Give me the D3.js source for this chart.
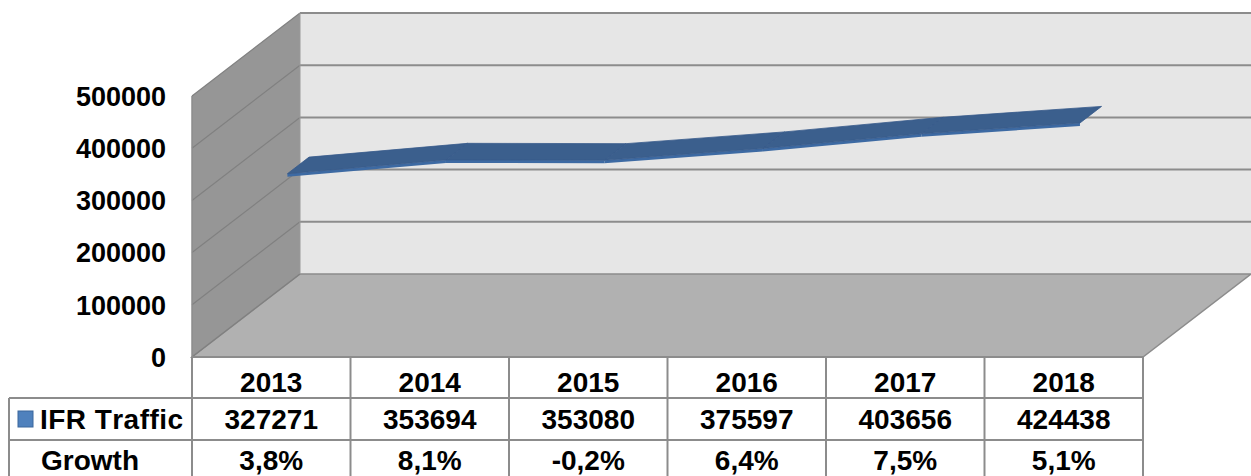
<!DOCTYPE html>
<html>
<head>
<meta charset="utf-8">
<script src="https://cdn.jsdelivr.net/npm/d3@7"></script>
<style>
  body { margin: 0; background: #fff; }
  svg text { font-family: "Liberation Sans", Arial, sans-serif; font-weight: bold; fill: #000; font-kerning: none; }
</style>
</head>
<body>
<svg id="chart" width="1251" height="476"></svg>
<script>
// datos
const years = ["2013", "2014", "2015", "2016", "2017", "2018"];
const traffic = [327271, 353694, 353080, 375597, 403656, 424438];
const growth = ["3,8%", "8,1%", "-0,2%", "6,4%", "7,5%", "5,1%"];
const yTicks = [0, 100000, 200000, 300000, 400000, 500000];
const seriesName = "IFR Traffic";
const rowName = "Growth";

const svg = d3.select("#chart");

// plano frontal + profundidad
const plotLeft = 192, plotRight = 1143, plotBottom = 357, plotTop = 96;
const dx = 108, dy = -83;

const x = d3.scaleBand().domain(years).range([plotLeft, plotRight]);
const y = d3.scaleLinear().domain([0, 500000]).range([plotBottom, plotTop]);

const pts = a => a.map(p => p.join(",")).join(" ");

// pared del fondo
svg.append("polygon")
  .attr("points", pts([[plotLeft + dx, plotTop + dy], [1251, plotTop + dy], [1251, plotBottom + dy], [plotLeft + dx, plotBottom + dy]]))
  .attr("fill", "#e6e6e6");

// pared lateral
svg.append("polygon")
  .attr("points", pts([[plotLeft, plotBottom], [plotLeft, plotTop], [plotLeft + dx, plotTop + dy], [plotLeft + dx, plotBottom + dy]]))
  .attr("fill", "#969696");

// suelo
svg.append("polygon")
  .attr("points", pts([[plotLeft, plotBottom], [plotRight, plotBottom], [plotRight + dx, plotBottom + dy], [plotLeft + dx, plotBottom + dy]]))
  .attr("fill", "#b1b1b1")
  .attr("stroke", "#8c8c8c")
  .attr("stroke-width", 1.5);

// lineas de cuadricula
yTicks.forEach(v => {
  if (v > 0) {
    svg.append("line")
      .attr("x1", plotLeft + dx).attr("y1", y(v) + dy)
      .attr("x2", 1251).attr("y2", y(v) + dy)
      .attr("stroke", "#8c8c8c").attr("stroke-width", 2);
  }
  svg.append("line")
    .attr("x1", plotLeft).attr("y1", y(v))
    .attr("x2", plotLeft + dx).attr("y2", y(v) + dy)
    .attr("stroke", "#808080").attr("stroke-width", 1.2);
});
svg.append("line")
  .attr("x1", plotLeft + dx).attr("y1", plotTop + dy)
  .attr("x2", plotLeft + dx).attr("y2", plotBottom + dy)
  .attr("stroke", "#9a9a9a").attr("stroke-width", 1);
svg.append("line")
  .attr("x1", plotLeft).attr("y1", plotTop)
  .attr("x2", plotLeft).attr("y2", plotBottom)
  .attr("stroke", "#8c8c8c").attr("stroke-width", 1.5);

// etiquetas del eje Y
svg.selectAll(".ylab")
  .data(yTicks)
  .enter()
  .append("text")
  .attr("class", "ylab")
  .attr("x", 166)
  .attr("y", d => y(d))
  .attr("dy", "0.36em")
  .attr("text-anchor", "end")
  .style("font-size", "27px")
  .text(d => d);

// cinta 3D de la serie
const t0 = 0.15, t1 = 0.35, thick = 3;
const cx = years.map(d => x(d) + x.bandwidth() / 2);
const cy = traffic.map(v => y(v));
const ribbon = svg.append("g");
for (let i = 0; i < years.length - 1; i++) {
  const f0 = [cx[i] + t0 * dx, cy[i] + t0 * dy], f1 = [cx[i + 1] + t0 * dx, cy[i + 1] + t0 * dy];
  const b0 = [cx[i] + t1 * dx, cy[i] + t1 * dy], b1 = [cx[i + 1] + t1 * dx, cy[i + 1] + t1 * dy];
  ribbon.append("polygon")
    .attr("points", pts([f0, f1, [f1[0], f1[1] + thick], [f0[0], f0[1] + thick]]))
    .attr("fill", "#3d6aa3");
  ribbon.append("polygon")
    .attr("points", pts([f0, f1, b1, b0]))
    .attr("fill", "#3b5f8d")
    .attr("stroke", "#36598a")
    .attr("stroke-width", 0.8);
}

// tabla de datos
const rowTop = [plotBottom, 398, 440, 482];
const grid = "#8c8c8c";
const table = svg.append("g");
// lineas horizontales
table.append("line").attr("x1", plotLeft).attr("x2", plotRight).attr("y1", rowTop[0]).attr("y2", rowTop[0])
  .attr("stroke", grid).attr("stroke-width", 2);
[1, 2].forEach(r => {
  table.append("line").attr("x1", 9).attr("x2", plotRight).attr("y1", rowTop[r]).attr("y2", rowTop[r])
    .attr("stroke", grid).attr("stroke-width", 2);
});
// lineas verticales
years.forEach(d => {
  table.append("line").attr("x1", x(d)).attr("x2", x(d)).attr("y1", rowTop[0]).attr("y2", 476)
    .attr("stroke", grid).attr("stroke-width", 2);
});
table.append("line").attr("x1", plotRight).attr("x2", plotRight).attr("y1", rowTop[0]).attr("y2", 476)
  .attr("stroke", grid).attr("stroke-width", 2);
table.append("line").attr("x1", 9).attr("x2", 9).attr("y1", rowTop[1]).attr("y2", 476)
  .attr("stroke", grid).attr("stroke-width", 2);

// cabecera, valores y crecimiento
const rows = [years, traffic, growth];
rows.forEach((row, r) => {
  table.selectAll(".r" + r)
    .data(row)
    .enter()
    .append("text")
    .attr("x", (d, i) => x(years[i]) + x.bandwidth() / 2)
    .attr("y", [392, 429, 470][r])
    .attr("text-anchor", "middle")
    .style("font-size", "28px")
    .text(d => d);
});

// leyenda y nombres de fila
table.append("rect")
  .attr("x", 18).attr("y", 411).attr("width", 15).attr("height", 16)
  .attr("fill", "#4f81bd").attr("stroke", "#3a669c").attr("stroke-width", 1);
table.append("text").attr("x", 40).attr("y", 429).style("font-size", "28px")
  .attr("textLength", 143).attr("lengthAdjust", "spacing").text(seriesName);
table.append("text").attr("x", 41).attr("y", 470).style("font-size", "28px").text(rowName);
</script>
</body>
</html>
